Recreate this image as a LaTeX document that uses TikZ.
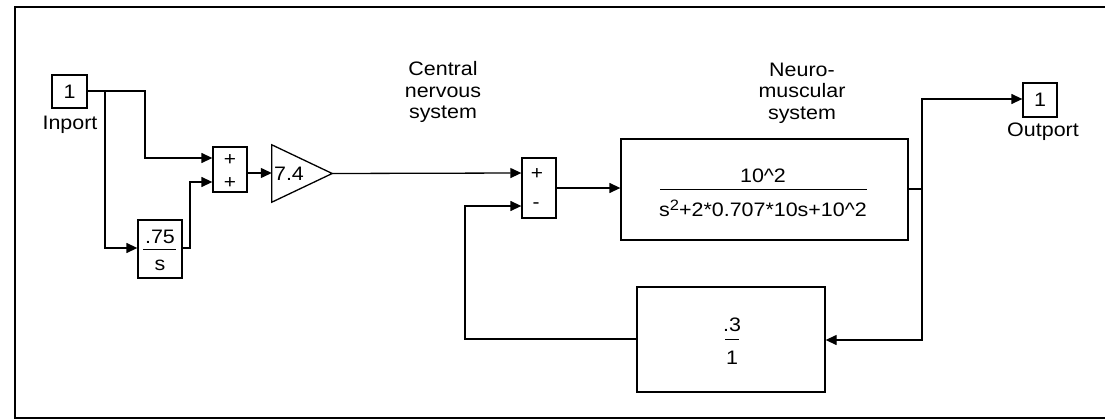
\documentclass[tikz,border=0pt]{standalone}
\usepackage{fontspec}
\setmainfont{Liberation Sans}[FakeStretch=1.1]
\usetikzlibrary{arrows.meta}
\begin{document}
\begin{tikzpicture}[x=1pt,y=-1pt,
  every node/.style={font=\fontsize{19.5}{21.5}\selectfont},
  blk/.style={draw,line width=1.3pt,inner sep=0pt,minimum width=#1},
  sig/.style={line width=1.3pt},
  arr/.style={sig,-{Triangle[length=11pt,width=10pt]}},
  lbl/.style={align=center,inner sep=0pt},
  sgn/.style={inner sep=0pt,font=\fontsize{19}{19}\selectfont}
]
\useasboundingbox (0,0) rectangle (1105,420);
% frame
\draw[line width=1.5pt] (1105,7) -- (15,7) -- (15,418) -- (1105,418);

% blocks
\node[blk=35pt,minimum height=33pt] (in) at (69.5,91.5) {1};
\node[lbl] (inlbl) at (70,125) {Inport};
\node[blk=34pt,minimum height=45pt] (sum1) at (230,169.5) {};
\node[sgn] (s1a) at (230,160) {+};
\node[sgn] (s1b) at (230,183) {+};
\node[blk=44pt,minimum height=58pt] (int) at (160,249) {};
\draw[line width=1pt] (143,249) -- (176,249);
\node[lbl] (intn) at (160,237) {.75};
\node[lbl] (intd) at (160,265) {s};
\node[inner sep=0pt,minimum width=60pt,minimum height=57pt] (gain) at (302,173.5) {};
\draw[line width=1.3pt] (gain.north west) -- (gain.east) -- (gain.south west) -- cycle;
\node[lbl] (gaint) at (289,174) {7.4};
\node[lbl] (cns) at (443,92) {Central\\nervous\\system};
\node[blk=34pt,minimum height=60pt] (sum2) at (539,188) {};
\node[sgn] (s2a) at (537,174) {+};
\node[sgn] (s2b) at (536,206) {-};
\node[lbl] (nmsl) at (802,93) {Neuro-\\muscular\\system};
\node[blk=287pt,minimum height=101pt] (nms) at (764.5,189.5) {};
\draw[line width=1pt] (660,189) -- (867,189);
\node[lbl] (nmsn) at (763,176) {10\^{}2};
\node[lbl] (nmsd) at (763,208) {s\raisebox{6pt}{\fontsize{15}{15}\selectfont 2}+2*0.707*10s+10\^{}2};
\node[blk=188pt,minimum height=105pt] (fb) at (731,339.5) {};
\draw[line width=1pt] (725,339) -- (739,339);
\node[lbl] (fbn) at (732,325) {.3};
\node[lbl] (fbd) at (732,358) {1};
\node[blk=34pt,minimum height=34pt] (out) at (1040,100) {1};
\node[lbl] (outlbl) at (1043,132) {Outport};

% connectors
\coordinate (b1) at (105,91);
\coordinate (b2) at (922,189);
\draw[arr] (in.east |- b1) -- (145,91) -- (145,158) -- (sum1.west |- 0,158);
\draw[arr] (b1) -- (105,248) -- (int.west |- 0,248);
\draw[arr] (int.east |- 0,248) -- (190,248) -- (190,182) -- (sum1.west |- 0,182);
\draw[arr] (sum1.east |- 0,173) -- (gain.west |- 0,173);
\draw[arr] (gain.east) -- (sum2.west |- 0,173);
\draw[arr] (sum2.east) -- (nms.west |- 0,188);
\draw[sig] (nms.east |- b2) -- (b2);
\draw[arr] (b2) -- (922,99) -- (out.west |- 0,99);
\draw[arr] (b2) -- (922,340) -- (fb.east |- 0,340);
\draw[arr] (fb.west |- 0,339) -- (465,339) -- (465,206) -- (sum2.west |- 0,206);
\end{tikzpicture}
\end{document}
